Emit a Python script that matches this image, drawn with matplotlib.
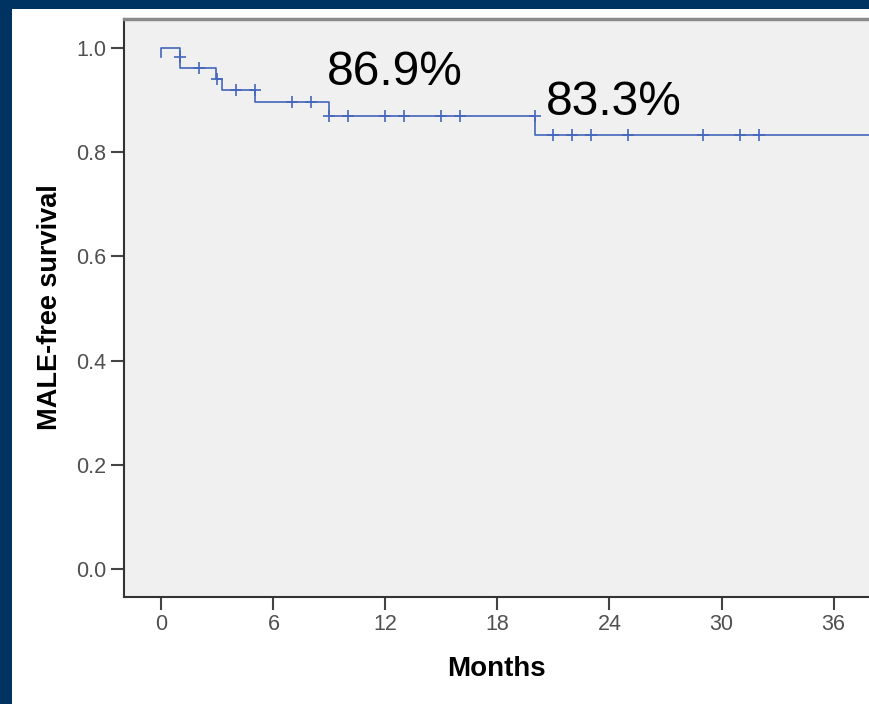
import matplotlib
matplotlib.use('Agg')
import matplotlib.pyplot as plt
from matplotlib.patches import Rectangle

plt.rcParams['font.family'] = ['Liberation Sans', 'DejaVu Sans']

# Kaplan-Meier steps (time in months, survival)
step_t = [0, 0, 1, 2.9, 3.25, 5, 9, 20, 38]
step_s = [0.982, 1.0, 0.96, 0.939, 0.918, 0.896, 0.869, 0.833, 0.833]
# censored observations
cens_t = [1, 2, 3, 4, 5, 7, 8, 9, 10, 12, 13, 15, 16, 20,
          21, 22, 23, 25, 29, 31, 32]
cens_s = [0.981, 0.96, 0.939, 0.918, 0.918, 0.896, 0.896, 0.869, 0.869, 0.869, 0.869, 0.869, 0.869, 0.869,
          0.833, 0.833, 0.833, 0.833, 0.833, 0.833, 0.833]
labels = ['86.9%', '83.3%']
label_t = [8.85, 20.6]
label_s = [0.928, 0.870]

NAVY = '#003262'
BLUE = '#4466bb'

fig = plt.figure(figsize=(8.69, 7.04), dpi=100)
fig.patch.set_facecolor(NAVY)
fig.patches.append(Rectangle((12 / 869, 0), 1, (704 - 9) / 704, transform=fig.transFigure,
                             facecolor='white', edgecolor='none', zorder=-10))

ax = fig.add_axes([123.5 / 869, (704 - 596.7) / 704, 1 - 123.5 / 869, (596.7 - 18.5) / 704])
ax.set_facecolor('#f0f0f0')
ax.step(step_t, step_s, where='post', color=BLUE, lw=1.2)
ax.plot(cens_t, cens_s, '+', color=BLUE, ms=8, mew=1.2)
for t, s, lab in zip(label_t, label_s, labels):
    ax.text(t, s, lab, fontsize=34.5, color='black', ha='left', va='baseline')

ax.set_xlim(-2.03, 37.9)
ax.set_ylim(-0.0525, 1.0556)
ax.set_xticks(range(0, 37, 6))
ax.set_yticks([0.0, 0.2, 0.4, 0.6, 0.8, 1.0])
ax.set_yticklabels(['0.0', '0.2', '0.4', '0.6', '0.8', '1.0'])
ax.tick_params(axis='both', length=9.5, width=1.5, color='#444444', labelcolor='#505050',
               labelsize=15.5, pad=3)

ax.spines['right'].set_visible(False)
ax.spines['top'].set_color('#8a8a8a')
ax.spines['top'].set_linewidth(2.5)
for sp in ('left', 'bottom'):
    ax.spines[sp].set_color('#333333')
    ax.spines[sp].set_linewidth(1.5)

ax.set_xlabel('Months', fontsize=20, fontweight='bold', labelpad=15)
ax.set_ylabel('MALE-free survival', fontsize=19.5, fontweight='bold', labelpad=9)

fig.savefig('out.png', dpi=100, facecolor=fig.get_facecolor())
